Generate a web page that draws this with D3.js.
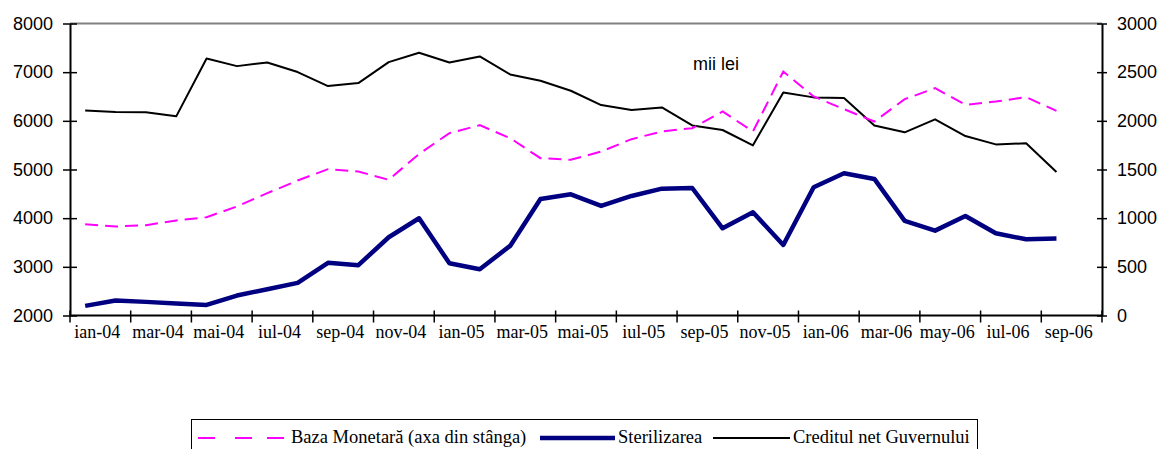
<!DOCTYPE html>
<html>
<head>
<meta charset="utf-8">
<script src="https://cdn.jsdelivr.net/npm/d3@7"></script>
<style>
  body { margin: 0; background: #fff; }
  svg { display: block; }
  .serif { font-family: "Times New Roman", "Liberation Serif", serif; }
  .sans { font-family: Arial, "Liberation Sans", sans-serif; }
</style>
</head>
<body>
<svg id="chart"></svg>
<script>
// months (last band is empty, as in the original)
const months = ["ian-04","feb-04","mar-04","apr-04","mai-04","iun-04","iul-04","aug-04","sep-04","oct-04","nov-04","dec-04",
  "ian-05","feb-05","mar-05","apr-05","mai-05","iun-05","iul-05","aug-05","sep-05","oct-05","nov-05","dec-05",
  "ian-06","feb-06","mar-06","apr-06","may-06","iun-06","iul-06","aug-06","sep-06","oct-06"];

// left axis
const bazaMonetara = [3877,3829,3856,3952,4021,4240,4514,4774,5007,4959,4788,5320,
  5747,5911,5644,5233,5199,5370,5623,5781,5849,6192,5781,7014,
  6500,6240,5986,6445,6671,6329,6397,6486,6205];

// right axis
const sterilizarea = [99,154,140,123,109,205,270,335,541,517,804,999,
  537,476,715,1197,1245,1126,1228,1303,1310,896,1061,725,
  1317,1461,1403,972,872,1023,845,783,790];

const creditulNet = [2107,2090,2087,2046,2641,2562,2600,2501,2357,2388,2603,2699,
  2600,2662,2477,2412,2309,2162,2111,2138,1953,1906,1748,2292,
  2241,2234,1953,1882,2015,1844,1758,1769,1474];

const leftTicks = [2000,3000,4000,5000,6000,7000,8000];
const rightTicks = [0,500,1000,1500,2000,2500,3000];

const W = 1160, H = 449;
const margin = {top: 23.5, right: 58, bottom: 133.5, left: 70};
const plotW = W - margin.left - margin.right;
const plotH = H - margin.top - margin.bottom;

const svg = d3.select("#chart").attr("width", W).attr("height", H);
const g = svg.append("g").attr("transform", `translate(${margin.left},${margin.top})`);

const x = d3.scaleBand().domain(months).range([0, plotW]);
const yL = d3.scaleLinear().domain([2000, 8000]).range([plotH, 0]);
const yR = d3.scaleLinear().domain([0, 3000]).range([plotH, 0]);

// top border
g.append("line")
  .attr("x1", 0).attr("x2", plotW).attr("y1", 0).attr("y2", 0)
  .attr("stroke", "#808080").attr("stroke-width", 2);

// left axis
const axL = g.append("g").call(d3.axisLeft(yL).tickValues(leftTicks).tickFormat(d3.format("d"))
  .tickSizeInner(7).tickSizeOuter(0).tickPadding(10));
axL.selectAll(".tick line").attr("x2", 7).attr("x1", -7);
// right axis
const axR = g.append("g").attr("transform", `translate(${plotW},0)`)
  .call(d3.axisRight(yR).tickValues(rightTicks).tickFormat(d3.format("d"))
  .tickSizeInner(5).tickSizeOuter(0).tickPadding(10));
axR.selectAll(".tick line").attr("x1", -5).attr("x2", 5);

[axL, axR].forEach(a => {
  a.attr("font-family", null).attr("font-size", null);
  a.select(".domain").attr("stroke", "#000").attr("stroke-width", 2);
  a.selectAll(".tick line").attr("stroke", "#000").attr("stroke-width", 1.5);
  a.selectAll(".tick text").attr("class", "sans").attr("font-size", 18).attr("fill", "#000");
});

// bottom axis: ticks between every second category
const axB = g.append("g").attr("transform", `translate(0,${plotH})`);
axB.append("line").attr("x1", 0).attr("x2", plotW).attr("stroke", "#000").attr("stroke-width", 2);
const tickIdx = d3.range(0, months.length + 1, 2);
axB.selectAll(".xt").data(tickIdx).enter().append("line")
  .attr("x1", i => i < months.length ? x(months[i]) : plotW)
  .attr("x2", i => i < months.length ? x(months[i]) : plotW)
  .attr("y1", -5).attr("y2", 7)
  .attr("stroke", "#000").attr("stroke-width", 1.5);
axB.selectAll(".xl").data(months.filter((m, i) => i % 2 === 0 && i < bazaMonetara.length)).enter().append("text")
  .attr("class", "serif")
  .attr("x", m => x(m) + x.bandwidth() - 3)
  .attr("y", 22)
  .attr("text-anchor", "middle")
  .attr("font-size", 18)
  .text(m => m);

// lines
const cx = (d, i) => x(months[i]) + x.bandwidth() / 2;

g.append("path").datum(creditulNet)
  .attr("fill", "none").attr("stroke", "#000").attr("stroke-width", 2)
  .attr("stroke-linejoin", "round")
  .attr("d", d3.line().x(cx).y(d => yR(d)));

g.append("path").datum(bazaMonetara)
  .attr("fill", "none").attr("stroke", "#ff00ff").attr("stroke-width", 2)
  .attr("stroke-dasharray", "13,7")
  .attr("d", d3.line().x(cx).y(d => yL(d)));

g.append("path").datum(sterilizarea)
  .attr("fill", "none").attr("stroke", "#000080").attr("stroke-width", 4.5)
  .attr("stroke-linejoin", "round")
  .attr("d", d3.line().x(cx).y(d => yR(d)));

// unit label
g.append("text")
  .attr("class", "sans")
  .attr("x", 623).attr("y", 46.5)
  .attr("font-size", 18)
  .text("mii lei");

// legend
const leg = svg.append("g");
leg.append("rect")
  .attr("x", 191.5).attr("y", 419.5).attr("width", 786).attr("height", 40)
  .attr("fill", "#fff").attr("stroke", "#000").attr("stroke-width", 1);

const legendItems = [
  {label: "Baza Monetară (axa din stânga)", color: "#ff00ff", width: 2, dash: "17,20,17,15", x0: 198, x1: 285, tx: 291},
  {label: "Sterilizarea", color: "#000080", width: 4.5, dash: null, x0: 540, x1: 615, tx: 618},
  {label: "Creditul net Guvernului", color: "#000", width: 2, dash: null, x0: 713, x1: 790, tx: 793}
];
legendItems.forEach(it => {
  leg.append("line")
    .attr("x1", it.x0).attr("x2", it.x1).attr("y1", 438).attr("y2", 438)
    .attr("stroke", it.color).attr("stroke-width", it.width)
    .attr("stroke-dasharray", it.dash);
  leg.append("text")
    .attr("class", "serif")
    .attr("x", it.tx).attr("y", 443)
    .attr("font-size", 18.5)
    .text(it.label);
});
</script>
</body>
</html>
